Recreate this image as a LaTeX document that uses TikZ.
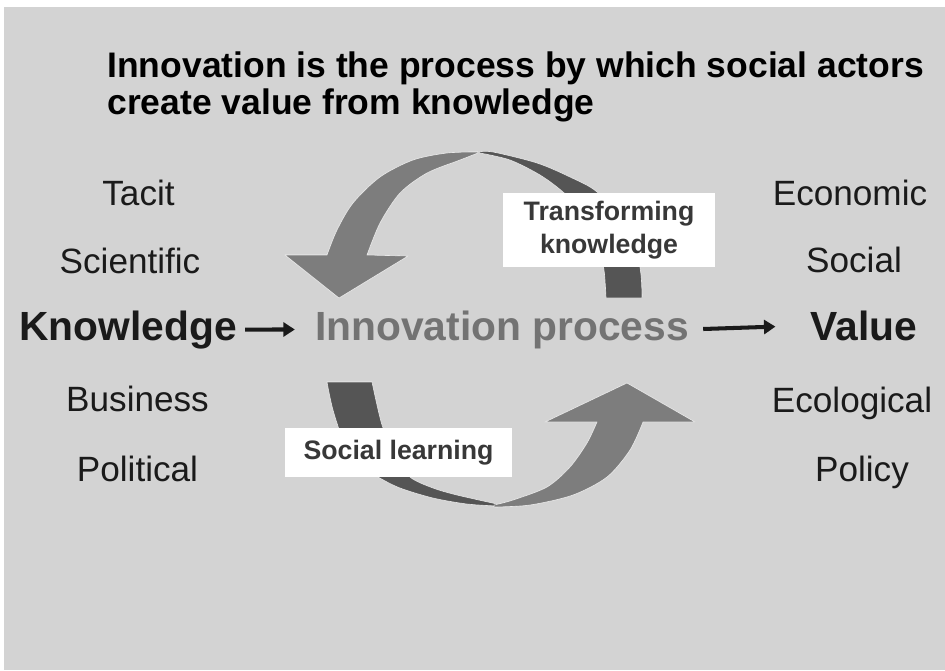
\documentclass[tikz,border=0pt]{standalone}
\usepackage{fontspec}
\setmainfont{Liberation Sans}
\usetikzlibrary{arrows.meta}
\definecolor{bg}{HTML}{D3D3D3}
\definecolor{midg}{HTML}{7D7D7D}
\definecolor{darkg}{HTML}{555555}
\definecolor{txt}{HTML}{1A1A1A}
\definecolor{boxtxt}{HTML}{383838}
\definecolor{innovg}{HTML}{737373}
\begin{document}
\begin{tikzpicture}[x=0.02cm,y=-0.02cm,
  titletext/.style={font=\fontsize{20.2}{24}\selectfont\bfseries, text=black, anchor=base west, inner sep=0pt},
  word/.style={font=\fontsize{20}{24}\selectfont, text=txt, anchor=base, inner sep=0pt},
  bigword/.style={font=\fontsize{23.2}{28}\selectfont\bfseries, text=txt, anchor=base, inner sep=0pt},
  labelbox/.style={fill=white, text=boxtxt, font=\fontsize{15.2}{18}\selectfont\bfseries, align=center, inner sep=0pt},
  ribbon/.style={draw=white, draw opacity=0.75, line width=0.35pt, line join=round},
  conn/.style={line width=2.3pt, draw=txt, -{Triangle[length=6.5pt,width=8pt]}}]
% canvas
\useasboundingbox (0,0) rectangle (945,670);
\fill[white] (0,0) rectangle (945,670);
\fill[bg] (4,7) rectangle (945,670);
% title
\node[titletext] (t1) at (107,77) {Innovation is the process by which social actors};
\node[titletext] (t2) at (107,114) {create value from knowledge};
% top ribbon, dark right half
\fill[darkg, ribbon] plot[smooth] coordinates {(478,152) (493,152) (537,163) (570,177) (597,192) (620,222) (636,250) (641,275) (642,298)}
  -- plot[smooth] coordinates {(606,298) (604,270) (598,245) (585,215) (563,192) (540,175) (510,160) (480,153)} -- cycle;
% top arrow, medium grey
\fill[midg, ribbon] plot[smooth] coordinates {(478,152) (447,153) (413,160) (380,177) (353,203) (337,230) (327,255)}
  -- (285,255) -- (339,298) -- (408,256)
  -- plot[smooth] coordinates {(367,255) (380,223) (400,193) (427,173) (460,160) (478,153)} -- cycle;
% bottom ribbon, dark left half
\fill[darkg, ribbon] plot[smooth] coordinates {(327,382) (333,410) (345,445) (360,465) (378,477) (400,488) (433,498) (467,504) (497,506)}
  -- plot[smooth] coordinates {(497,504) (457,495) (433,488) (410,477) (395,455) (382,425) (372,382)} -- cycle;
% bottom arrow, medium grey
\fill[midg, ribbon] plot[smooth] coordinates {(494,507) (530,505) (573,495) (607,477) (630,450) (643,422)}
  -- (695,422) -- (627,383) -- (545,422)
  -- plot[smooth] coordinates {(597,422) (587,443) (570,467) (547,487) (513,500) (494,505)} -- cycle;
% label boxes
\node[labelbox, minimum width=212*0.02cm, minimum height=74*0.02cm] (tk) at (609,230) {Transforming\\[0.5pt]knowledge};
\node[labelbox, minimum width=227*0.02cm, minimum height=49*0.02cm] (sl) at (398.5,452.5) {Social learning};
% left column
\node[word] (tacit) at (138.5,205) {Tacit};
\node[word] (sci) at (130,273) {Scientific};
\node[bigword] (know) at (128,340) {Knowledge};
\node[word] (bus) at (137.5,411) {Business};
\node[word] (pol) at (137.5,481) {Political};
% centre
\node[bigword, text=innovg] (innov) at (502,340) {Innovation process};
% right column
\node[word] (eco) at (850,205) {Economic};
\node[word] (soc) at (854,272) {Social};
\node[bigword] (val) at (864,340) {Value};
\node[word] (ecol) at (852,412) {Ecological};
\node[word] (polc) at (862,481) {Policy};
% connectors
\draw[conn, shorten <=0.16cm, shorten >=0.4cm] (know.east) -- (innov.west);
\draw[conn, shorten <=0.28cm, shorten >=0.7cm] (innov.east) -- (val.west);
\end{tikzpicture}
\end{document}
